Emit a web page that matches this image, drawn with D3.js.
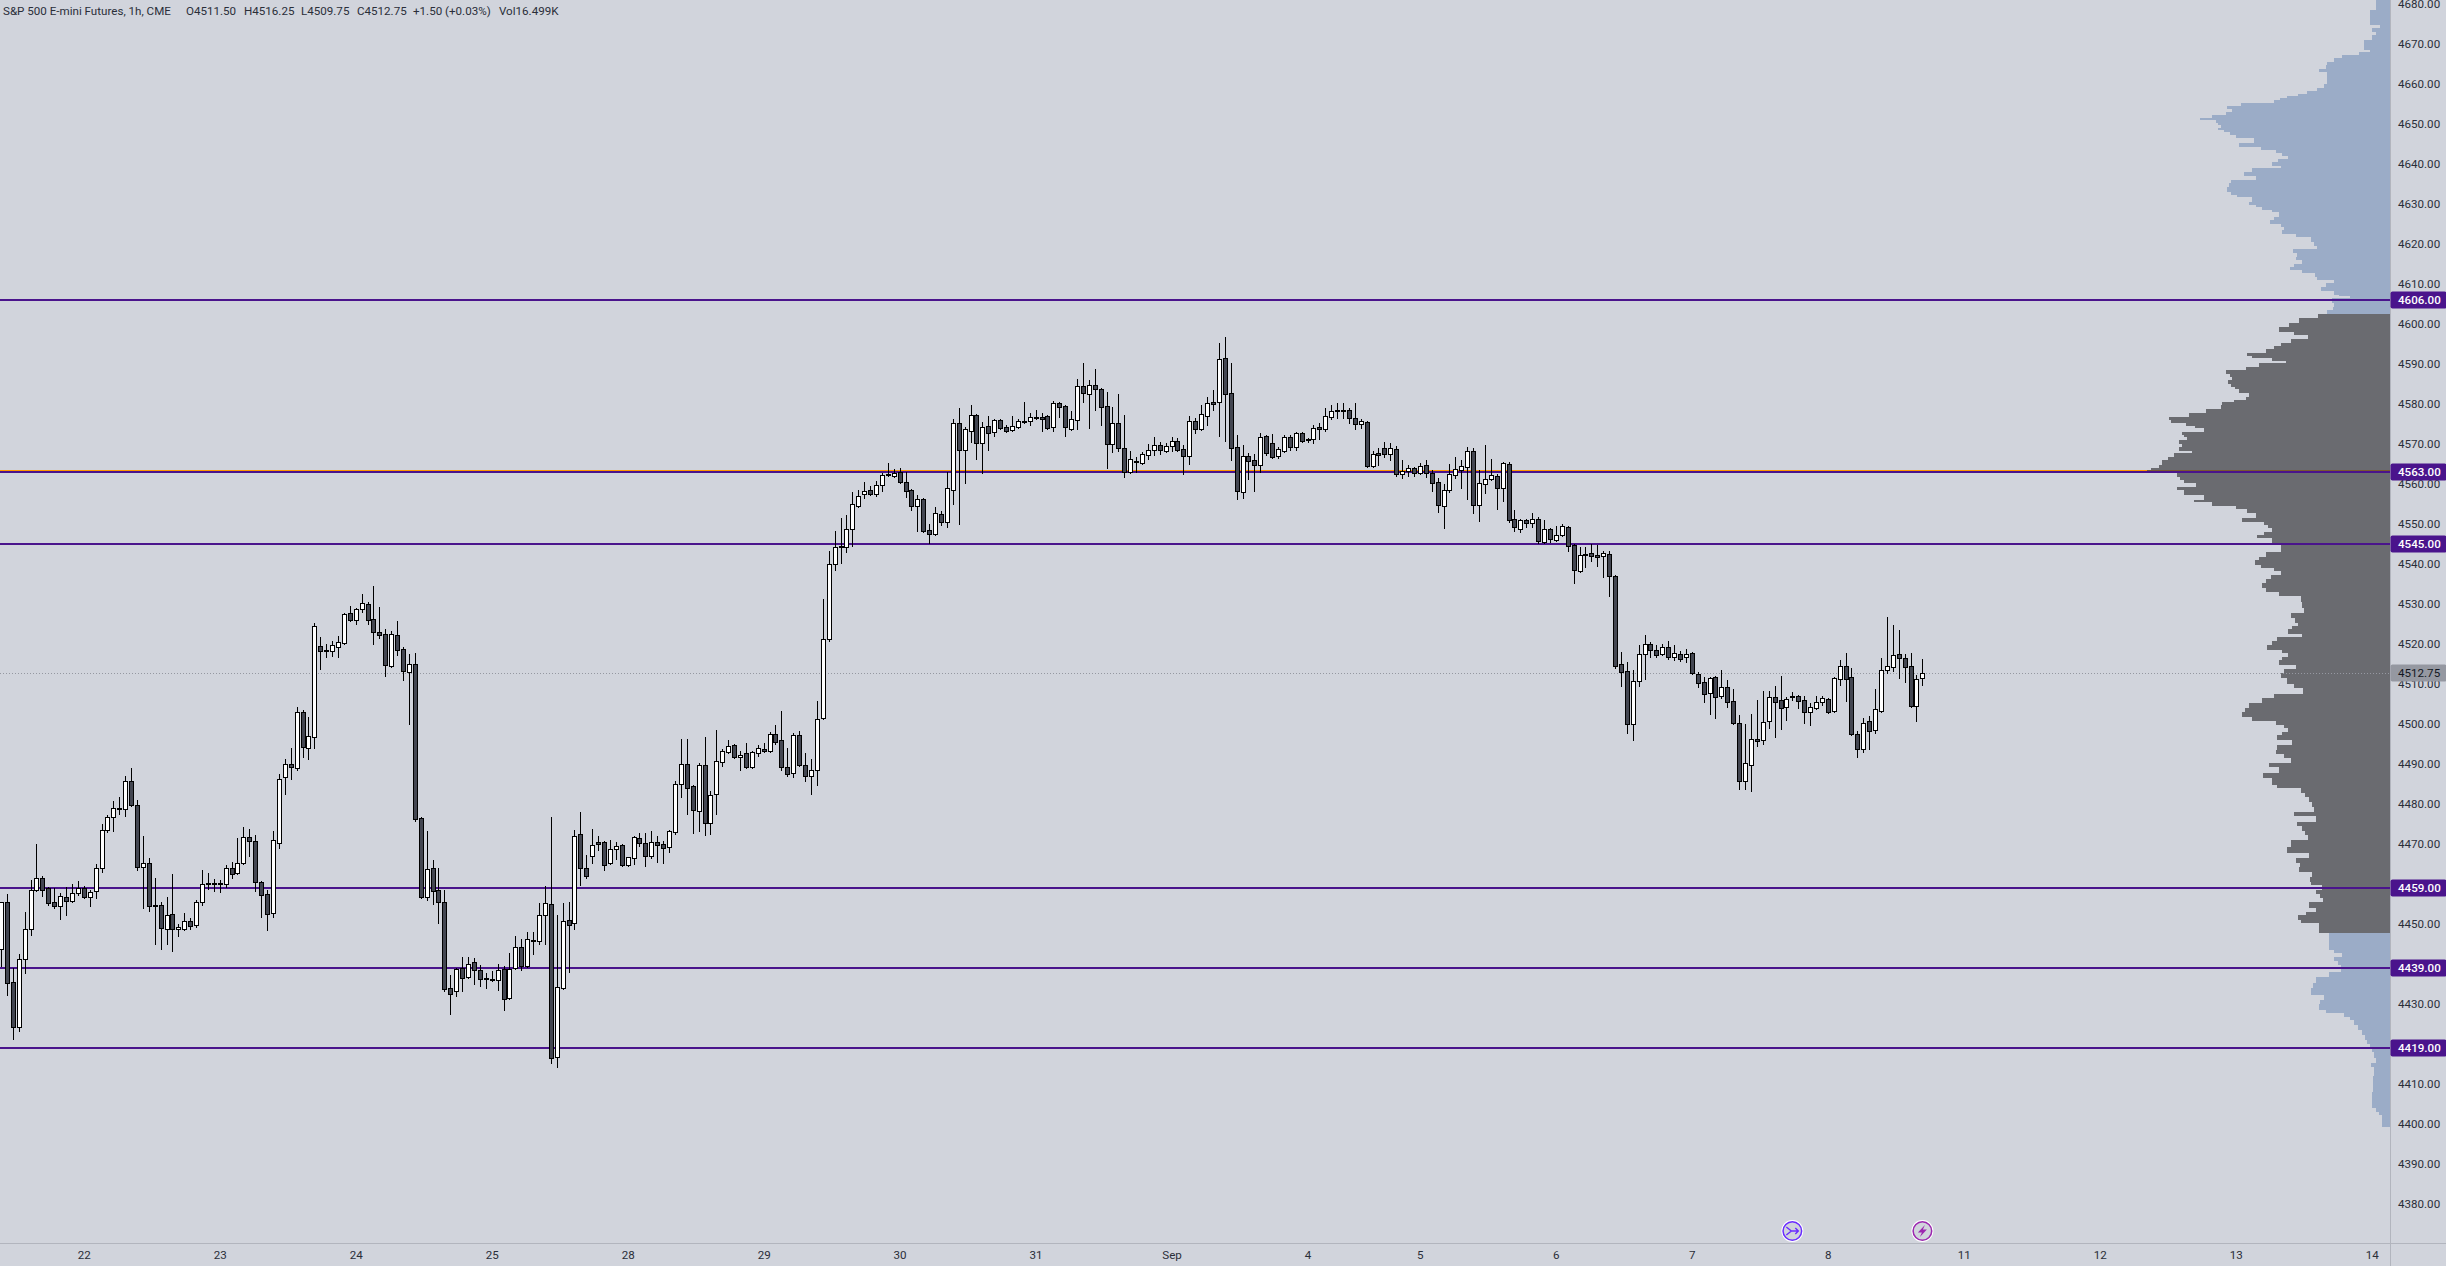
<!DOCTYPE html>
<html>
<head>
<meta charset="utf-8">
<title>ES 1h</title>
<script src="https://cdn.jsdelivr.net/npm/d3@7/dist/d3.min.js"></script>
<style>
  html, body { margin: 0; padding: 0; background: #d1d4dc; }
  svg { display: block; }
  text { font-family: Roboto, "Noto Sans", sans-serif; font-size: 11.6px; fill: #2a2e39; }
  .axis .domain { display: none; }
</style>
</head>
<body>
<div id="chart"></div>
<script>
// 1h bars, left to right
var opens = [
  4443.75,4455.5,4435.5,4424.25,4441.25,4448.75,4458.5,4461.5,4459,4455.5,
  4454.5,4456.75,4455.75,4457.75,4459,4456.75,4458.25,4464,4473.5,4476.75,
  4479,4478.75,4485.75,4479.75,4464.25,4465.25,4454.75,4454.75,4448.75,4452.5,
  4448.75,4448.75,4450.75,4449.75,4455.5,4460.25,4460.25,4460,4460,4464,
  4462.75,4465.25,4471.75,4470.75,4460.5,4457.5,4452.75,4470.25,4486.75,4490,
  4489,4503,4494,4496.75,4519.5,4518.5,4518.25,4519.25,4520.25,4527.75,
  4526,4528.75,4530,4526.25,4523,4522.5,4514.5,4522.25,4518.75,4513,
  4515,4476.5,4456.75,4464,4458.5,4455.5,4434,4433.25,4439,4436.75,
  4440.5,4438.5,4436.5,4436.25,4436,4438.75,4431.5,4439,4444.25,4439.5,
  4445.75,4445.75,4452.25,4455,4416.75,4434,4451,4450.25,4472.5,4464,
  4467,4470.5,4470.5,4465.25,4468.75,4469.75,4464.75,4466.5,4471.5,4470.25,
  4467,4470.5,4470,4469.25,4473,4485,4490,4484.5,4478.25,4489.75,
  4475.25,4482.5,4490.5,4493,4494.75,4491.75,4492.75,4489.25,4492.75,4493.75,
  4493.25,4497.5,4496,4489.25,4487.75,4497.25,4489.75,4487,4488.5,4501.5,
  4521.25,4540,4544.5,4544.25,4548.75,4554.5,4557.5,4558.5,4557.5,4559.75,
  4562.5,4562,4563,4560.5,4558.5,4554.5,4556.25,4548.5,4547.5,4552.5,
  4550.5,4558.5,4575.25,4568.5,4573.25,4577.25,4570.25,4574.5,4573,4576,
  4574.25,4573.5,4574.25,4575.75,4575.75,4576.5,4576.75,4577,4574.25,4580.25,
  4579.5,4573.75,4576,4584.5,4582.5,4584.75,4583.75,4579.5,4570,4575.25,
  4569,4563,4565.75,4565.25,4567.25,4568.5,4569.75,4568.25,4569.5,4570.75,
  4568.75,4567,4575.75,4573.75,4577,4580.5,4580.5,4591.5,4582.75,4569.25,
  4558,4567,4566,4564.75,4572,4570.25,4567,4568.25,4571.75,4569.25,
  4572.75,4571.25,4571.25,4574.25,4573.75,4576.75,4578.25,4578.5,4578.5,4576.5,
  4575,4575.5,4564.5,4567.75,4569,4567.5,4568.75,4562.5,4563.25,4564,
  4562.75,4564.75,4562.75,4560.5,4554.5,4558.5,4562.25,4563.5,4564.25,4568.25,
  4554.75,4560,4561.25,4562,4559,4565,4551.25,4548.75,4551,4550.25,
  4551.25,4545.5,4548.75,4546,4547.25,4549.25,4544.75,4538.25,4542.25,4542.75,
  4542.25,4542,4542.5,4537,4515,4513.25,4500,4510.75,4517.5,4520,
  4518.5,4517.5,4519.25,4516.75,4517.5,4516.75,4517.75,4512.5,4510.5,4507.75,
  4511.75,4507,4509.25,4505.75,4500.25,4485.75,4489.75,4496.25,4496,4500.75,
  4506.75,4506,4504.25,4506.75,4507,4506,4503,4504,4505.5,4506.25,
  4503.25,4511.25,4514.5,4511.75,4497.5,4493.75,4500.75,4498.5,4503.25,4513.5,
  4514.25,4517.5,4516.5,4514.5,4504.5,4511.5
];
var highs = [
  4455.5,4457.5,4439,4442.5,4453,4461,4470,4462,4459.25,4459,
  4457.75,4459.25,4460,4460.75,4459.5,4458.5,4465,4475,4477.25,4480.75,
  4481.75,4487,4489,4481,4472,4466.5,4461.5,4455.5,4456.75,4462.5,
  4450,4452.75,4451.5,4456,4463.5,4462.75,4461.25,4461,4464.75,4465.5,
  4471.5,4474.25,4473.75,4472.25,4460.75,4458.5,4473.25,4487.5,4491.25,4494,
  4504.25,4503.5,4501.75,4525.25,4521.75,4520,4520.75,4522,4527.75,4529.5,
  4529,4532.5,4530.5,4534.5,4529.25,4523.75,4523.25,4525.75,4519.25,4517.5,
  4517.75,4476.75,4473.25,4466,4464,4458.5,4437.25,4439,4441.75,4441.75,
  4441.5,4439.75,4437.75,4438.25,4440,4439.5,4442.75,4447,4446.25,4448,
  4448,4455.25,4459.5,4476.75,4452.25,4455.25,4455.5,4473.5,4478,4467.25,
  4473.75,4472,4470.75,4471,4470.5,4470,4466.75,4472,4472.75,4472.75,
  4473.25,4472,4470.75,4473.5,4485.75,4496.25,4496.25,4484.75,4490.25,4496.75,
  4483.25,4498.5,4493.75,4496,4495,4493.25,4495.25,4493.25,4494.75,4495.25,
  4498,4499.75,4503.25,4494,4497.75,4498.25,4492.75,4491.25,4505.75,4531.25,
  4543.25,4548.25,4551.5,4552.25,4558,4558.5,4560.5,4559.5,4560.75,4562.75,
  4565.25,4563.75,4564,4563,4558.75,4557.25,4556.5,4550,4554.25,4553.25,
  4563,4576.25,4579,4574.25,4579.75,4577.5,4575.5,4577,4576.25,4576.25,
  4574.75,4577,4576.25,4580.5,4577.75,4578.5,4577.75,4577.25,4580.75,4580.5,
  4579.75,4578.25,4586.25,4590.25,4586,4588.75,4584,4583,4579.25,4582.5,
  4577.25,4568.25,4566.75,4568,4570,4571.75,4570.5,4570.25,4571.75,4571.5,
  4569.75,4577,4576.5,4579.75,4581.75,4583.5,4595.25,4596.75,4590.25,4572.25,
  4569.75,4567.75,4567.5,4572.75,4572.25,4572.5,4569.25,4572.25,4572.25,4573,
  4573,4571.5,4574.75,4575.25,4579,4579.75,4580.25,4580.25,4579,4580.25,
  4576.25,4575.75,4568.25,4569,4570.5,4570.25,4569.5,4566,4564.75,4564.25,
  4565.25,4566,4563.5,4561.5,4560,4565,4566.75,4566,4569.25,4569,
  4563.5,4569.75,4566.25,4562.5,4565.5,4565.5,4553.5,4551.25,4551.25,4552.75,
  4551.75,4551,4549,4549.5,4550,4549.5,4545,4544.25,4544.25,4545,
  4544.75,4543.25,4543.25,4537.25,4518,4515.5,4513.5,4519.75,4522.25,4520.5,
  4519.75,4520,4520.75,4519.75,4518.25,4518.75,4518,4513,4511.75,4511.75,
  4512,4513.5,4511,4508.75,4502.25,4500,4502.5,4506,4508.25,4508.25,
  4509.5,4512,4506.75,4508,4507.25,4507,4505.25,4507,4507,4506.5,
  4511.75,4516,4517.75,4514,4498.25,4501.5,4502,4508.75,4516.5,4526.75,
  4524.75,4523.5,4517.5,4517.75,4512.25,4516.25
];
var lows = [
  4439.5,4432.25,4421.25,4423.25,4437.75,4447.25,4458.25,4457,4454.75,4454,
  4451.25,4452.25,4455.5,4457.25,4456.5,4454.5,4456.5,4463,4473,4473.25,
  4477.5,4477,4479.5,4463.5,4454,4453.25,4445,4443.75,4445,4443.25,
  4447,4448.5,4448.75,4449.25,4454.75,4458.75,4458.25,4458,4459.25,4461.5,
  4462.5,4465,4467,4458.25,4451.75,4448.5,4451.75,4469,4482.5,4486.25,
  4488.5,4491.75,4491.25,4494,4513.75,4516.75,4517,4516.75,4520,4525.75,
  4525,4528,4525,4520,4521.5,4512,4514.25,4517.25,4511,4500,
  4475.75,4456.5,4456,4455,4450.25,4433.25,4427.5,4432,4433.25,4436.5,
  4435,4434.5,4434,4435.75,4433.5,4428.5,4431.25,4438.75,4438.5,4439.25,
  4442.5,4445,4445,4415.25,4414.25,4433.75,4438,4448.75,4459.75,4461.5,
  4465.25,4468.5,4463.5,4465,4466.25,4464.5,4464.5,4465,4469.5,4464.5,
  4466.5,4465.5,4465.25,4468,4472.5,4481.75,4477.5,4472.75,4473.25,4472.25,
  4472.5,4477.5,4489.5,4492.75,4491.5,4488.5,4489,4489,4492,4493,
  4493,4495,4488.5,4487,4486.75,4489.5,4485.75,4482.5,4484.75,4501.25,
  4520.75,4538.5,4540.25,4543,4544.5,4554.25,4556.5,4557.25,4557,4558.25,
  4562,4561.75,4560.25,4556.75,4553.5,4548.25,4548,4545.25,4547.25,4549.75,
  4549.25,4555,4550,4560.25,4570.5,4566.25,4562.75,4568.5,4572,4573.75,
  4573,4573.25,4574,4575.25,4574.75,4576.25,4573.25,4573.75,4573.25,4576.75,
  4572,4573.5,4573.75,4580.5,4574,4578.5,4574.75,4564,4568,4568.25,
  4561.75,4562.75,4563,4565,4566.25,4567.25,4567.5,4568,4568.25,4568.25,
  4562.5,4565,4572.75,4573.5,4574.75,4578.5,4572,4570.75,4566,4556.25,
  4556.5,4561.25,4558.25,4563,4567.25,4566.5,4566.5,4568,4568.5,4568.5,
  4570.5,4570.5,4570.25,4571.25,4573.25,4576.25,4576.5,4576.5,4575.25,4573.75,
  4574,4564.25,4564.25,4564.75,4566.75,4566,4562,4561.5,4562,4562,
  4562.5,4561.75,4558.25,4553,4549,4558,4561.5,4559,4556.25,4552.75,
  4550.75,4557.75,4561,4553.75,4555.75,4550.5,4548.25,4548,4549.25,4549.25,
  4545.25,4545.25,4545.5,4545.75,4547,4543.25,4535.25,4538,4539.25,4540.75,
  4539.5,4536.75,4532,4514,4509.5,4497.75,4496,4509.5,4511.25,4516.75,
  4516.75,4517.25,4516.25,4516,4515.75,4515.5,4512.5,4509.25,4505.5,4502.5,
  4501.5,4506.5,4504.25,4500,4483.75,4483.75,4483.25,4494.5,4495,4499,
  4496.75,4498.75,4501,4506,4504,4500.25,4499.75,4503.75,4504.75,4502.75,
  4503,4509.75,4505.75,4497.25,4491.75,4493,4493.75,4497.75,4503,4512.75,
  4513.25,4511.5,4510.5,4504.25,4500.75,4509.75
];
var closes = [
  4455.5,4435.25,4424.25,4441.25,4448.75,4458.5,4461.5,4458.5,4455.25,4454.5,
  4457,4455.75,4457.75,4459,4456.75,4458,4464,4473.5,4476.75,4479,
  4478.75,4485.75,4479.75,4464.25,4465.25,4454.5,4454.5,4449,4452.25,4448.75,
  4449.25,4450.75,4449.5,4455.5,4460,4460,4460,4460.25,4464,4462.5,
  4465.25,4471.75,4470.75,4460.5,4457.25,4452.5,4471,4486.25,4490,4489.25,
  4503,4494.25,4497,4524.5,4518.25,4518.25,4519.75,4520.5,4527.5,4526,
  4528.75,4530.25,4526,4523,4522.25,4514.75,4522.5,4518.5,4513.25,4515,
  4476.25,4456.75,4463.75,4458.25,4455.5,4433.75,4432.5,4438.75,4436.5,4440,
  4438.5,4436.25,4436.25,4436,4438.5,4431.25,4438.75,4444.25,4439.5,4446.25,
  4446,4452.25,4455.25,4416.5,4434.25,4450.75,4449.75,4472,4464,4462,
  4469.75,4470,4464.75,4468.75,4469.5,4464.75,4466.75,4471.75,4470.25,4467,
  4470.5,4469.75,4469,4473.25,4485,4490,4484,4478.5,4489.75,4475.25,
  4482.25,4490.75,4493.25,4494.5,4491.75,4492.25,4489.25,4493,4494,4493.25,
  4497.5,4495.5,4489.25,4487.5,4497.25,4489.75,4487,4488.5,4501.25,4521.25,
  4540,4544.25,4544.25,4548.75,4555,4557,4558.25,4557.5,4559.75,4562.25,
  4562.25,4562.75,4560.5,4558.25,4554.5,4556.25,4548.25,4547.5,4552.75,4550.5,
  4559,4575.25,4568.5,4573.75,4577.25,4570.25,4574.25,4572.75,4576,4574,
  4573.25,4574.5,4575.75,4575.5,4576.75,4576.75,4576.25,4574,4580.25,4579.25,
  4574.25,4576.25,4584.5,4582.75,4584.75,4583.75,4579.25,4570,4575.25,4569,
  4563,4566.25,4565.5,4567.5,4568.5,4569.75,4568.5,4569.5,4570.75,4568.5,
  4567,4575.75,4573.75,4577.5,4580.25,4580,4591.25,4582.5,4569,4558.25,
  4567,4565.75,4564.75,4571.75,4567.75,4566.75,4568.75,4571.75,4569.25,4572.75,
  4570.75,4571,4574,4573.75,4577,4578.25,4578.5,4578.25,4576.5,4575,
  4575.75,4564.5,4567.5,4567.25,4567.5,4569,4562.5,4563.25,4564,4562.75,
  4564.5,4562.75,4560.25,4554.75,4558.5,4562.5,4563.75,4564.5,4568.25,4554.75,
  4560.25,4561.25,4562.25,4559,4565.25,4551,4549.25,4551,4550.25,4551.25,
  4545.75,4548.75,4546.25,4547.25,4549.5,4544.5,4538.5,4542.25,4542.5,4542,
  4541.75,4542.75,4537,4514.5,4513,4500,4510.75,4517.5,4520,4518.5,
  4517.25,4519.25,4516.75,4517.75,4516.25,4517.5,4512.75,4510.25,4507.5,4511.5,
  4506.75,4509.25,4505.5,4500.25,4485.75,4490.25,4496.25,4495.75,4500.5,4506.75,
  4505.5,4504,4506.25,4507,4505.75,4503,4504.25,4505.5,4506.5,4503,
  4511.5,4514.5,4511.25,4497.5,4493.75,4500.25,4498.25,4503.75,4513.5,4514.5,
  4517.25,4516.5,4514.25,4504.5,4511.25,4512.75
];

// volume profile rows: each row runs from its price down to the next price
var profilePrices = [
  4682,4678.5,4676,4674.75,4674,4673,4672.25,4671,4669.25,4668.5,4668,4667.25,4666.5,4665.5,4664.75,4663.75,4663,4661,4660,4659,
  4658.25,4657.5,4657,4656.5,4656,4655.25,4654.5,4653.75,4653,4652.25,4651.5,4651,4650.25,4649.75,4649,4648.5,4648,4647.25,4646.5,4645.25,
  4644.25,4643.5,4642.75,4642,4641.25,4640.5,4639.5,4639,4638,4637,4636,4635.25,4634.25,4633,4632.25,4631.75,4630.5,4629.75,4629.25,4628.5,
  4628,4626.75,4626,4625,4624.25,4623.5,4622.5,4621.75,4620.5,4619.5,4618.75,4617.75,4616.75,4616,4615,4614.25,4613.5,4612.75,4611.75,4611,
  4610.25,4609.25,4608.25,4607.25,4607,4606.5,4605.25,4604.25,4603.5,
  4602.5,4601.5,4600.25,4599.25,4598,4597.25,4596.25,4595.25,4594.5,4593.75,4592.75,4592,4591.5,4590.75,4590.25,4589.25,4588.5,4587.5,4586.75,4586,
  4585,4584.25,4583.75,4582.75,4581.75,4581,4580.5,4579.75,4578.75,4577.75,4576.75,4576,4575.25,4574.5,4574,4573,4572.25,4571.75,4571,4570,
  4569.25,4568.25,4567.75,4566.75,4566,4564.75,4564,4563.5,4563,4562.75,4561.75,4561,4560.25,4559.25,4558.5,4557.25,4556,4555.5,4554.5,4553.75,
  4552.75,4551.5,4550.5,4549.75,4549,4548,4547.25,4546.5,4545.25,4544,4543,4541.75,4541,4539.75,4539,4538.25,4537.25,4536.25,4535.25,4534,
  4533,4532,4530.5,4529,4527.75,4526.5,4525.25,4524.5,4523.75,4522.5,4521.75,4520.75,4519.75,4518.5,4517.75,4516.75,4516,4514.75,4513.75,4512.75,
  4511.5,4510,4509,4507.5,4506.5,4505.25,4504,4503,4501.75,4500.75,4499.75,4499,4498,4497.25,4496,4494.75,4493.5,4492.5,4491.5,4490.25,
  4489.25,4487.75,4486.5,4484.75,4484,4482.75,4481.75,4480.5,4479.25,4478,4477,4475.5,4474.5,4473.25,4472.25,4471,4469.25,4467.75,4466.5,4465.25,
  4464.25,4463,4461.75,4460.5,4459.75,4458.5,4457.5,4456.5,4455.5,4454,4453,4452.25,4451,4450.25,
  4447.75,4445.25,4443.5,4442.75,4441.75,4440.75,4439.75,4438,4436.75,4435.25,4434,4432.25,4431,4430,4428.5,4427.75,4426.75,4426,4424.75,4423.5,
  4422.25,4421,4420,4419.25,4418,4416.5,4415.25,4414.25,4412,4409.25,4408,4406.5,4404,4403,4402.25,4399.25
];
var profileVolumes = [
  14,20,20,10,18,14,18,26,26,20,31,48,56,63,64,71,63,63,66,73,
  83,92,103,110,116,149,163,158,164,178,190,174,172,169,172,166,160,154,136,151,
  129,114,108,102,112,118,109,138,146,134,159,161,163,159,153,138,141,134,128,118,
  111,116,120,109,106,108,94,79,76,73,97,93,94,88,96,100,88,75,73,56,
  64,69,56,51,40,58,56,57,63,
  72,91,101,111,96,82,99,109,116,124,143,138,118,104,131,144,164,160,158,162,
  159,155,151,141,144,156,168,169,184,201,221,219,204,195,186,208,206,203,211,208,
  211,198,216,222,228,231,239,243,240,213,210,206,194,213,206,186,196,178,154,143,
  134,148,126,122,118,126,133,118,109,109,124,131,135,129,116,109,119,124,128,124,
  111,89,88,86,99,95,92,98,102,88,113,118,123,108,102,108,111,94,106,109,
  103,96,87,116,128,141,145,148,138,114,106,102,108,113,98,113,114,106,99,121,
  111,127,118,113,89,85,81,78,76,96,74,93,88,85,82,99,103,81,94,90,
  91,78,80,79,68,74,70,67,81,74,84,92,89,71,
  61,61,56,48,56,52,49,61,74,77,79,66,70,71,64,46,40,36,32,28,
  25,23,20,18,16,14,19,16,17,17,18,18,14,11,8,0
];
var valueAreaHigh = 4602.5;
var valueAreaLow = 4447.75;
var pocPrice = 4563.5;

var levels = [4606, 4563, 4545, 4459, 4439, 4419];
var lastPrice = 4512.75;

var priceTicks = [4380,4390,4400,4410,4420,4430,4440,4450,4460,4470,4480,4490,4500,4510,4520,4530,4540,4550,4560,4570,4580,4590,4600,4610,4620,4630,4640,4650,4660,4670,4680];
var dayLabels = ["22","23","24","25","28","29","30","31","Sep","4","5","6","7","8","11","12","13","14"];
var dayBars = [14,37,60,83,106,129,152,175,198,221,240,263,286,309,332,355,378,401];

var headerTexts = ["S&P 500 E-mini Futures, 1h, CME","O4511.50","H4516.25","L4509.75","C4512.75","+1.50 (+0.03%)","Vol16.499K"];
var headerX = [3,186,244,301,357,413,499];

var width = 2446, height = 1266,
    axisX = 2390, axisY = 1243;

var bars = opens.map((o, i) => ({ i: i, o: o, h: highs[i], l: lows[i], c: closes[i] }));

// bar index -> px, price -> px
var xScale = d3.scaleLinear().domain([0, 325]).range([1, 1922.4]);
var yScale = d3.scaleLinear().domain([4400, 4600]).range([1124, 324]);
var volScale = d3.scaleLinear().domain([0, 243]).range([axisX, axisX - 243]);

var svg = d3.select("#chart").append("svg")
    .attr("width", width)
    .attr("height", height);

svg.append("rect").attr("width", width).attr("height", height).attr("fill", "#d1d4dc");

var plot = svg.append("g");

// poc line runs under the profile, shows through it
plot.append("line")
    .attr("x1", 0).attr("x2", axisX)
    .attr("y1", yScale(pocPrice) + 0.5).attr("y2", yScale(pocPrice) + 0.5)
    .attr("stroke", "#ff9800")
    .attr("stroke-width", 1);

// Volume profile
var rows = profilePrices.slice(0, -1).map((p, i) => ({ p: p, next: profilePrices[i + 1], v: profileVolumes[i] }));
plot.append("g")
    .attr("shape-rendering", "crispEdges")
    .attr("fill-opacity", 0.7)
  .selectAll("rect")
    .data(rows)
  .enter().append("rect")
    .attr("x", d => volScale(d.v))
    .attr("y", d => yScale(d.p))
    .attr("width", d => axisX - volScale(d.v))
    .attr("height", d => yScale(d.next) - yScale(d.p))
    .attr("fill", d => (d.p <= valueAreaHigh && d.p > valueAreaLow) ? "#3e3e42" : "#859bbd");

// Horizontal levels
plot.selectAll(".level")
    .data(levels)
  .enter().append("line")
    .attr("class", "level")
    .attr("x1", 0).attr("x2", axisX)
    .attr("y1", d => yScale(d)).attr("y2", d => yScale(d))
    .attr("stroke", "#4a148c")
    .attr("stroke-width", 2);

// Last price dots
plot.append("line")
    .attr("x1", 0).attr("x2", axisX)
    .attr("y1", yScale(lastPrice) + 0.5).attr("y2", yScale(lastPrice) + 0.5)
    .attr("stroke", "#9598a1")
    .attr("stroke-dasharray", "1,2");

// Candles, pixel snapped like the real thing
var candles = plot.append("g").selectAll("g")
    .data(bars)
  .enter().append("g");

candles.append("rect")
    .attr("shape-rendering", "crispEdges")
    .attr("x", d => Math.round(xScale(d.i)))
    .attr("y", d => yScale(d.h))
    .attr("width", 1)
    .attr("height", d => yScale(d.l) - yScale(d.h) + 1)
    .attr("fill", "#000");

candles.append("rect")
    .attr("shape-rendering", "crispEdges")
    .attr("x", d => Math.round(xScale(d.i)) - 1.5)
    .attr("y", d => yScale(Math.max(d.o, d.c)) + 0.5)
    .attr("width", 4)
    .attr("height", d => Math.max(1, Math.abs(yScale(d.o) - yScale(d.c))))
    .attr("fill", d => d.c >= d.o ? "#ffffff" : "#434651")
    .attr("stroke", "#000")
    .attr("stroke-width", 1);

// Header
svg.append("g").selectAll("text")
    .data(headerTexts)
  .enter().append("text")
    .attr("x", (d, i) => headerX[i])
    .attr("y", 15)
    .text(d => d);

// Marks near the time axis
var markY = 1231;
var markX = [xScale(303), xScale(325)];
var markCol = ["#6a2cff", "#9c27b0"];
var marks = svg.append("g").selectAll("g")
    .data(markX)
  .enter().append("g")
    .attr("transform", d => "translate(" + d + "," + markY + ")");
marks.append("circle")
    .attr("r", 11)
    .attr("fill", "#fff");
marks.append("circle")
    .attr("r", 9.3)
    .attr("fill", "#d1d4dc")
    .attr("stroke", (d, i) => markCol[i])
    .attr("stroke-width", 1.5);
marks.filter((d, i) => i == 0).append("path")
    .attr("d", "M-6,-4 L-1,0 L-6,4 M-1,0 L6,0 M3,-3 L6,0 L3,3")
    .attr("fill", "none")
    .attr("stroke", markCol[0])
    .attr("stroke-width", 1.4);
marks.filter((d, i) => i == 1).append("path")
    .attr("d", "M2.5,-6 L-4.5,1.5 L-0.5,1.5 L-2.5,6 L4.5,-1.5 L0.5,-1.5 Z")
    .attr("fill", markCol[1]);

// Axes
svg.append("line")
    .attr("x1", axisX + 0.5).attr("x2", axisX + 0.5)
    .attr("y1", 0).attr("y2", height)
    .attr("stroke", "#b2b5be");
svg.append("line")
    .attr("x1", 0).attr("x2", width)
    .attr("y1", axisY + 0.5).attr("y2", axisY + 0.5)
    .attr("stroke", "#b2b5be");

var priceAxis = svg.append("g")
    .attr("class", "axis")
    .attr("transform", "translate(" + axisX + ",0)")
    .call(d3.axisRight(yScale)
            .tickValues(priceTicks)
            .tickSize(0)
            .tickPadding(8)
            .tickFormat(d3.format(".2f")));

var timeAxis = svg.append("g")
    .attr("class", "axis")
    .attr("transform", "translate(0," + axisY + ")")
    .call(d3.axisBottom(xScale)
            .tickValues(dayBars)
            .tickSize(0)
            .tickPadding(8)
            .tickFormat((d, i) => dayLabels[i]));

svg.selectAll(".axis text")
    .style("font-family", "Roboto, 'Noto Sans', sans-serif")
    .style("font-size", "11.6px")
    .attr("fill", "#2a2e39");

// Price tags on the axis
var tags = svg.append("g").selectAll("g")
    .data(levels)
  .enter().append("g")
    .attr("transform", d => "translate(" + axisX + "," + yScale(d) + ")");
tags.append("rect")
    .attr("x", 0.5).attr("y", -8.5)
    .attr("width", width - axisX).attr("height", 17)
    .attr("rx", 2)
    .attr("fill", "#4a148c");
tags.append("text")
    .attr("x", 8).attr("dy", "0.37em")
    .style("fill", "#ffffff")
    .style("font-weight", 500)
    .text(d => d3.format(".2f")(d));

var lastTag = svg.append("g")
    .attr("transform", "translate(" + axisX + "," + yScale(lastPrice) + ")");
lastTag.append("rect")
    .attr("x", 0.5).attr("y", -8.5)
    .attr("width", width - axisX).attr("height", 17)
    .attr("rx", 2)
    .attr("fill", "#9598a1");
lastTag.append("text")
    .attr("x", 8).attr("dy", "0.37em")
    .style("fill", "#131722")
    .text(d3.format(".2f")(lastPrice));
</script>
</body>
</html>
